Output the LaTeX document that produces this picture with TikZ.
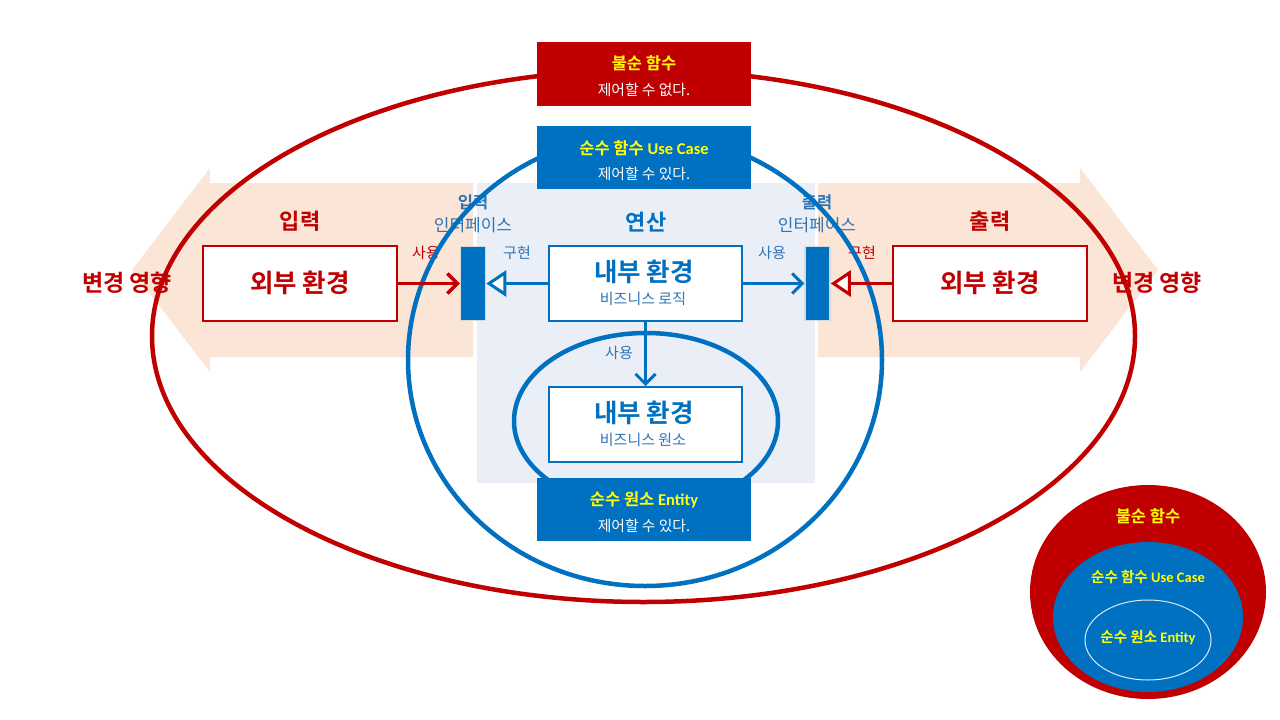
\documentclass[tikz,border=0pt]{standalone}
\usepackage{fontspec}
\setmainfont{Noto Sans CJK KR}[BoldFont={Noto Sans CJK KR Bold}]
\newfontfamily\latf{Carlito}
\usetikzlibrary{arrows.meta}
\definecolor{cred}{HTML}{C00000}
\definecolor{cblue}{HTML}{0070C0}
\definecolor{lblue}{HTML}{2E75B6}
\definecolor{peach}{HTML}{FBE5D6}
\definecolor{bgblue}{HTML}{EAEFF7}
\definecolor{cyel}{HTML}{FFFF00}
\definecolor{bargray}{HTML}{D9D9D9}
\newcommand{\fsz}[1]{\fontsize{#1}{#1}\selectfont}
\begin{document}
\begin{tikzpicture}[x=1pt,y=-1pt,
  txt/.style={inner sep=0pt, anchor=center},
  redbox/.style={draw=cred, line width=2pt, fill=white, minimum width=194pt, minimum height=75pt, inner sep=0pt},
  bluebox/.style={draw=cblue, line width=2pt, fill=white, minimum width=193pt, minimum height=75pt, inner sep=0pt},
  ifbar/.style={draw=bargray, line width=1.5pt, fill=cblue, minimum width=25pt, minimum height=74pt, inner sep=0pt},
  tagred/.style={fill=cred, minimum width=214pt, minimum height=64pt, inner sep=0pt},
  tagblue/.style={fill=cblue, minimum width=214pt, minimum height=63pt, inner sep=0pt},
  redcon/.style={draw=cred, line width=3.5pt},
  bluecon/.style={draw=cblue, line width=3pt},
  tipbarb/.style={-{Straight Barb[length=10pt,width=20pt]}},
  tiptri/.style={-{Triangle[open,fill=white,length=20pt,width=26pt,line width=3pt]}},
  title/.style={txt, font=\fsz{25.5}\bfseries},
  big/.style={txt, font=\fsz{22}\bfseries},
  small/.style={txt, font=\fsz{15}},
  tagtitle/.style={txt, font=\fsz{16.5}\bfseries, text=cyel},
  tagsub/.style={txt, font=\fsz{14.8}, text=white},
]
\useasboundingbox (0,0) rectangle (1280,720);
\fill[white] (0,0) rectangle (1280,720);

% fat arrows
\fill[peach] (473,183) -- (210,183) -- (210,168) -- (132,270) -- (210,372) -- (210,357) -- (473,357) -- cycle;
\fill[peach] (818,183) -- (1080,183) -- (1080,168) -- (1158,270) -- (1080,372) -- (1080,357) -- (818,357) -- cycle;
% operation background
\fill[bgblue] (477,183) rectangle (815,483);

% labels under the rings
\node[big, text=cred] (inL) at (300,221) {입력};
\node[big, text=cred] (outR) at (990,221) {출력};
\node[big, text=cred, font=\fsz{23}\bfseries] (effL) at (127,283) {변경 영향};
\node[big, text=cred, font=\fsz{23}\bfseries] (effR) at (1157,283) {변경 영향};
\node[txt, font=\fsz{16.5}\bfseries, text=lblue] (ifLt) at (473,202) {입력};
\node[txt, font=\fsz{17}, text=lblue] (ifLs) at (473,225) {인터페이스};
\node[txt, font=\fsz{16.5}\bfseries, text=lblue] (ifRt) at (817,202) {출력};
\node[txt, font=\fsz{17}, text=lblue] (ifRs) at (817,225) {인터페이스};
\node[big, text=cblue] (calc) at (646,222) {연산};
\node[small, text=cred] (useL) at (426,253) {사용};
\node[small, text=lblue] (implL) at (517,253) {구현};
\node[small, text=lblue] (useR) at (772,253) {사용};
\node[small, text=cred] (implR) at (862,253) {구현};
\node[small, text=lblue] (useD) at (619,353) {사용};

% rings
\draw[cred, line width=4.5pt] (643.5,336) ellipse [x radius=491.5pt, y radius=266pt];
\draw[cblue, line width=4.5pt] (645,360) ellipse [x radius=237pt, y radius=226pt];
\draw[cblue, line width=4.5pt] (646,421) ellipse [x radius=132pt, y radius=88pt];

% boxes
\node[redbox] (extL) at (300,283.5) {};
\node[title, text=cred] at (300,283) {외부 환경};
\node[redbox] (extR) at (990,283.5) {};
\node[title, text=cred] at (990,283) {외부 환경};
\node[bluebox] (logic) at (645.5,283.5) {};
\node[title, text=cblue] at (644,272) {내부 환경};
\node[small, text=lblue] at (643,299) {비즈니스 로직};
\node[bluebox] (ent) at (645.5,424.5) {};
\node[title, text=cblue] at (644,413) {내부 환경};
\node[small, text=lblue] at (643,440) {비즈니스 원소};
\node[ifbar] (ifL) at (473,283.5) {};
\node[ifbar] (ifR) at (817.5,283.5) {};

% tag boxes
\node[tagred] (impure) at (644,74) {};
\node[tagtitle] at (644,63) {불순 함수};
\node[tagsub] at (644,90) {제어할 수 없다.};
\node[tagblue] (usecase) at (644,157.5) {};
\node[tagtitle] at (644,148) {순수 함수 {\latf Use Case}};
\node[tagsub] at (644,174) {제어할 수 있다.};
\node[tagblue] (entity) at (644,509.5) {};
\node[tagtitle] at (644,500) {순수 원소 {\latf Entity}};
\node[tagsub] at (644,526) {제어할 수 있다.};

% connectors
\draw[redcon, tipbarb] (extL.east) -- (ifL.west);
\draw[bluecon, tiptri] (logic.west) -- (ifL.east);
\draw[bluecon, tipbarb] (logic.east) -- (ifR.west);
\draw[redcon, tiptri] (extR.west) -- (ifR.east);
\draw[bluecon, tipbarb] (logic.south) -- (ent.north);

% legend
\fill[cred] (1148,592) ellipse [x radius=118pt, y radius=107pt];
\fill[cblue] (1148,617) ellipse [x radius=95pt, y radius=75pt];
\draw[white!85!cblue, line width=1pt] (1148,640) ellipse [x radius=63pt, y radius=40pt];
\node[tagtitle] (lgImpure) at (1148,516) {불순 함수};
\node[txt, font=\fsz{14.5}\bfseries, text=cyel] (lgUse) at (1148,577) {순수 함수 {\latf Use Case}};
\node[txt, font=\fsz{14.5}\bfseries, text=cyel] (lgEnt) at (1148,638) {순수 원소 {\latf Entity}};
\end{tikzpicture}
\end{document}
